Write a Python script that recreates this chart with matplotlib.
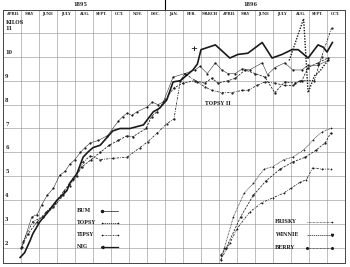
import matplotlib
matplotlib.use("Agg")
import matplotlib.pyplot as plt

# month columns, April 1895 .. October 1896
months = ["APRIL", "MAY", "JUNE", "JULY", "AUG.", "SEPT.", "OCT.", "NOV.", "DEC.",
          "JAN.", "FEB.", "MARCH", "APRIL", "MAY", "JUNE", "JULY", "AUG.", "SEPT.", "OCT."]
years = ["1895", "1896"]
kilo_ticks = [2, 3, 4, 5, 6, 7, 8, 9, 10, 11]

# first litter (month position, kilos)
nig_m = [0.95, 1.2, 1.5, 1.66, 2.05, 2.6, 3.0, 3.55, 3.7, 4.1, 4.45, 4.7, 5.0, 5.4, 6.1, 6.5,
         7.05, 7.8, 8.35, 8.7, 9.1, 9.45, 9.85, 10.55, 10.8, 11.0, 11.8, 12.6, 13.05, 13.6,
         14.4, 14.95, 15.5, 16.05, 16.4, 16.95, 17.5, 17.8, 18.0, 18.3]
nig_k = [1.6, 1.8, 2.3, 2.6, 3.1, 3.6, 4.0, 4.4, 4.7, 5.1, 5.8, 6.0, 6.2, 6.3, 6.9, 7.0,
         7.0, 7.15, 7.7, 7.85, 8.2, 8.95, 9.0, 9.45, 9.7, 10.3, 10.5, 9.95, 10.1, 10.15,
         10.6, 9.95, 10.1, 10.3, 10.3, 9.95, 10.5, 10.4, 10.2, 10.6]

bum_m = [1.05, 1.6, 1.9, 2.15, 2.45, 2.8, 3.15, 3.45, 3.7, 4.0, 4.3, 4.55, 4.85, 5.3, 5.8,
         6.4, 6.65, 6.9, 7.15, 7.45, 8.0, 8.3, 8.6, 8.9, 9.45, 10.1, 10.65, 10.95, 11.35,
         11.8, 12.15, 12.5, 12.9, 13.3, 13.7, 14.4, 14.7, 15.1, 15.65, 16.1, 16.6, 16.95,
         17.5, 18.05]
bum_k = [2.04, 3.3, 3.4, 3.8, 4.2, 4.5, 5.05, 5.2, 5.5, 5.7, 6.0, 6.2, 6.4, 6.5, 6.7,
         7.3, 7.5, 7.65, 7.55, 7.7, 7.9, 8.1, 8.0, 8.1, 9.15, 9.3, 9.45, 9.6, 9.3,
         9.75, 9.45, 9.3, 9.3, 9.5, 9.45, 9.75, 9.25, 9.55, 9.75, 9.45, 9.45, 9.65,
         9.65, 9.85]

topsy_m = [1.0, 1.4, 1.9, 2.4, 2.9, 3.4, 3.9, 4.4, 4.9, 5.4, 5.9, 6.4, 6.9, 7.2, 7.95, 8.25,
           8.55, 9.0, 9.5, 10.0, 10.65, 11.2, 11.6, 11.95, 12.5, 12.9, 13.45, 14.0, 14.55,
           15.1, 15.65, 16.2, 16.6, 16.95, 17.5, 18.05]
topsy_k = [2.0, 2.6, 3.1, 3.5, 3.9, 4.4, 4.9, 5.4, 5.7, 6.0, 6.3, 6.5, 6.7, 6.65, 7.0, 7.5,
           7.7, 8.2, 8.7, 8.9, 9.0, 8.9, 9.1, 8.9, 9.0, 9.1, 9.45, 9.3, 9.15,
           8.5, 8.95, 8.9, 9.0, 9.55, 9.75, 9.95]

tipsy_m = [1.1, 1.65, 2.2, 2.8, 3.35, 3.7, 4.1, 4.45, 4.85, 5.4, 6.1, 6.9, 7.6, 8.05, 8.55,
           9.1, 9.5, 9.85, 10.1, 10.8, 11.2, 11.6, 12.15, 12.7, 13.3, 13.6, 14.1, 14.55,
           15.1, 15.65, 16.1, 16.5, 17.3, 17.7, 18.25]
tipsy_k = [2.25, 3.1, 3.3, 3.7, 4.2, 4.6, 5.0, 5.6, 5.85, 5.7, 5.75, 5.8, 6.2, 6.45, 6.8,
           7.2, 7.4, 9.0, 9.3, 8.95, 8.75, 8.6, 8.5, 8.5, 8.6, 8.6, 8.8, 8.95,
           8.9, 8.8, 8.8, 9.0, 9.0, 10.0, 11.2]

topsy2_m = [15.9, 16.7, 16.95, 17.3, 17.6, 18.1]
topsy2_k = [9.85, 11.6, 8.5, 9.2, 9.4, 9.9]

# second litter
frisky_m = [12.1, 12.3, 12.8, 13.4, 13.9, 14.5, 15.0, 15.6, 16.1, 16.7, 17.2, 17.7, 18.2]
frisky_k = [1.5, 2.0, 3.3, 4.3, 4.7, 5.3, 5.4, 5.7, 5.8, 6.1, 6.5, 6.85, 7.0]
winnie_m = [12.1, 12.4, 13.2, 13.9, 14.6, 15.4, 16.1, 16.8, 17.4, 17.9, 18.2]
winnie_k = [1.7, 2.0, 3.3, 4.2, 4.8, 5.3, 5.6, 5.8, 6.1, 6.4, 6.8]
berry_m = [12.1, 12.6, 13.0, 13.7, 14.4, 15.0, 15.6, 16.0, 16.5, 16.85, 17.2, 17.7, 18.2]
berry_k = [1.5, 2.2, 2.8, 3.5, 3.9, 4.1, 4.3, 4.5, 4.75, 4.85, 5.35, 5.3, 5.3]

font = dict(family="DejaVu Serif", fontweight="bold", color="#222222")
ink = "#1a1a1a"

fig = plt.figure(figsize=(3.5, 2.67), dpi=100)
ax = fig.add_axes([3 / 350, 4 / 267, 342 / 350, 253 / 267])
ax.set_xlim(0, 19)
ax.set_ylim(1.37, 11.96)
ax.set_xticks([])
ax.set_yticks([])
for s in ax.spines.values():
    s.set_linewidth(0.7)
    s.set_color("#444444")

for i in range(1, 19):
    ax.axvline(i, color="#9a9a9a", lw=0.45, zorder=0)
for k in kilo_ticks:
    ax.axhline(k, color="#9a9a9a", lw=0.45, zorder=0)
    ax.text(0.12, k + 0.08, str(k), fontsize=3.6, va="bottom", ha="left", **font)
ax.text(0.15, 11.45, "KILOS", fontsize=3.6, va="center", ha="left", **font)

for i, name in enumerate(months):
    ax.text(i + 0.5, 11.78, name, fontsize=2.6, ha="center", va="center", **font)
ax.text(4.3, 12.2, years[0], fontsize=3.6, ha="center", va="center", clip_on=False, **font)
ax.text(13.75, 12.2, years[1], fontsize=3.6, ha="center", va="center", clip_on=False, **font)
ax.plot([9, 9], [11.96, 12.38], color="black", lw=0.8, clip_on=False)

lw = 0.55
ax.plot(nig_m, nig_k, color=ink, lw=1.2)
ax.plot(bum_m, bum_k, color=ink, lw=0.35, marker="o", ms=1.6, mew=0)
ax.plot(topsy_m, topsy_k, color=ink, lw=lw, ls=(0, (3, 1.5)), marker=".", ms=1.4)
ax.plot(tipsy_m, tipsy_k, color=ink, lw=lw, ls=(0, (3, 1.5, 1, 1.5)), marker=".", ms=1.2)
ax.plot(topsy2_m, topsy2_k, color=ink, lw=1.0, ls=(0, (1, 1)))
ax.plot(frisky_m, frisky_k, color=ink, lw=lw, ls=(0, (1, 1)), marker="+", ms=2, mew=0.5)
ax.plot(winnie_m, winnie_k, color=ink, lw=lw, ls=(0, (3, 1.5)), marker=".", ms=1.4)
ax.plot(berry_m, berry_k, color=ink, lw=lw, ls=(0, (3, 1.5, 1, 1.5)), marker="o", ms=1.3, mew=0)

ax.text(10.6, 10.33, "+", fontsize=6, ha="center", va="center", **font)
ax.text(11.2, 8.05, "TOPSY II", fontsize=3.6, ha="left", va="center", **font)

# legends drawn as in the plate
leg1 = [("BUM", dict(lw=0.5, marker="o", ms=1.5, markevery=[0])),
        ("TOPSY", dict(lw=0.5, ls=(0, (2, 1)), marker="+", ms=2, mew=0.4, markevery=[0, -1])),
        ("TIPSY", dict(lw=0.5, ls=(0, (2, 1, 1, 1)), marker="+", ms=2, mew=0.4, markevery=[0, -1])),
        ("NIG", dict(lw=0.9, marker="<", ms=1.8, markevery=[0]))]
for j, (name, st) in enumerate(leg1):
    yk = 3.55 - j * 0.5
    ax.text(4.1, yk, name, fontsize=3.6, ha="left", va="center", **font)
    ax.plot([5.5, 6.4], [yk, yk], color=ink, **st)

leg2 = [("FRISKY", dict(lw=0.5, ls=(0, (1, 1)), marker="+", ms=2, mew=0.4, markevery=[-1])),
        ("WINNIE", dict(lw=0.5, ls=(0, (2, 1)), marker="v", ms=1.6, markevery=[-1])),
        ("BERRY", dict(lw=0.5, ls=(0, (1, 1)), marker="o", ms=1.2, markevery=[0, -1]))]
for j, (name, st) in enumerate(leg2):
    yk = 3.1 - j * 0.55
    ax.text(15.1, yk, name, fontsize=3.6, ha="left", va="center", **font)
    ax.plot([16.9, 18.3], [yk, yk], color=ink, **st)

fig.savefig("out.png", dpi=100)
